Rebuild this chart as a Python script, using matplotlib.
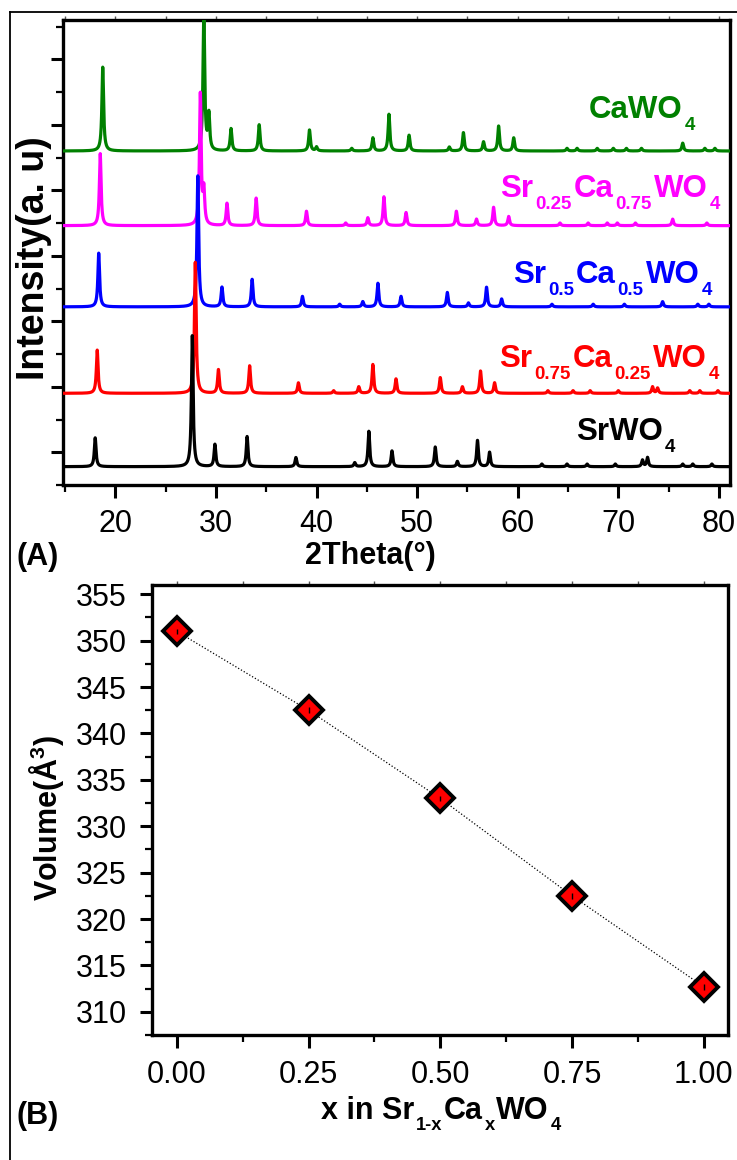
import numpy as np
import matplotlib
matplotlib.use('Agg')
import matplotlib.pyplot as plt
from matplotlib.lines import Line2D
from matplotlib.ticker import MultipleLocator, FixedLocator, FormatStrFormatter

plt.rcParams['font.family'] = ['Liberation Sans', 'DejaVu Sans']
plt.rcParams['mathtext.fontset'] = 'custom'
plt.rcParams['mathtext.rm'] = 'Liberation Sans:bold'
plt.rcParams['mathtext.it'] = 'Liberation Sans:bold'
plt.rcParams['mathtext.bf'] = 'Liberation Sans:bold'
plt.rcParams['mathtext.default'] = 'rm'

# ---------------- data: XRD peak lists (2theta, relative intensity %) ----------------
srwo4_pos = [18.0, 27.65, 29.9, 33.1, 37.95, 43.8, 45.2, 47.5, 51.8, 54.0, 56.0, 57.2,
             62.4, 64.9, 66.9, 69.7, 72.4, 72.9, 76.4, 77.4, 79.3]
srwo4_int = [22, 100, 17, 23, 7, 3, 27, 12, 15, 4, 20, 11, 2, 2, 2, 2, 5, 7, 2, 2, 2]

sr75_pos = [18.2, 27.95, 30.25, 33.35, 38.2, 41.7, 44.2, 45.6, 47.9, 52.3, 54.5, 56.3, 57.7,
            63.0, 65.5, 67.2, 70.0, 73.4, 73.9, 77.1, 78.1, 79.9]
sr75_int = [33, 100, 18, 21, 8, 2, 5, 22, 11, 12, 5, 17, 8, 2, 2, 2, 2, 5, 4, 2, 2, 2]

sr50_pos = [18.35, 28.2, 30.6, 33.6, 38.6, 42.3, 44.6, 46.1, 48.4, 53.0, 55.1, 56.9, 58.4,
            63.4, 67.5, 70.6, 74.4, 77.9, 79.0]
sr50_int = [41, 100, 15, 21, 8, 2, 4, 18, 8, 11, 3, 15, 6, 2, 2, 2, 4, 2, 2]

sr25_pos = [18.5, 28.45, 28.8, 31.1, 34.0, 39.0, 42.9, 45.1, 46.7, 48.9, 53.9, 55.9, 57.6, 59.1,
            64.2, 67.0, 68.9, 69.9, 71.7, 75.4, 78.8]
sr25_int = [55, 100, 25, 17, 21, 11, 2, 6, 22, 10, 11, 5, 14, 7, 2, 2, 2, 2, 2, 5, 2]

cawo4_pos = [18.75, 28.8, 29.3, 31.5, 34.3, 39.3, 40.0, 43.5, 45.6, 47.2, 49.2, 53.2, 54.6, 56.6,
             58.1, 59.6, 64.9, 65.9, 67.9, 69.5, 70.8, 72.3, 76.4, 78.6, 79.6]
cawo4_int = [64, 105, 27, 17, 20, 16, 3, 2, 10, 28, 12, 3, 14, 7, 19, 10, 2, 2, 2, 2, 2, 2, 6, 2, 2]

# sample labels as (text, is_subscript) pieces
sample_labels = [
    [('SrWO', False), ('4', True)],
    [('Sr', False), ('0.75', True), ('Ca', False), ('0.25', True), ('WO', False), ('4', True)],
    [('Sr', False), ('0.5', True), ('Ca', False), ('0.5', True), ('WO', False), ('4', True)],
    [('Sr', False), ('0.25', True), ('Ca', False), ('0.75', True), ('WO', False), ('4', True)],
    [('CaWO', False), ('4', True)],
]
sample_offsets = [14, 70, 136, 198, 255]
sample_colors = ['black', '#ff0000', '#0000ff', '#ff00ff', '#008000']

# ---------------- data: cell volume ----------------
x_comp = [0.0, 0.25, 0.50, 0.75, 1.00]
volume = [351.0, 342.5, 333.0, 322.5, 312.7]
volume_err = [0.3, 0.3, 0.3, 0.3, 0.3]
xlabel_B = [('x in Sr', False), ('1-x', True), ('Ca', False), ('x', True), ('WO', False), ('4', True)]

W, H = 737, 1160
fig = plt.figure(figsize=(W / 100, H / 100), dpi=100)
renderer = fig.canvas.get_renderer()


def fx(px):
    return px / W


def fy(py):
    return 1 - py / H


def rich(x, y, parts, ha='right', size=21, color='black', sub_scale=0.6, sub_drop=12, gap=1.5):
    items = []
    total = 0.0
    for txt, sub in parts:
        fs = size * sub_scale if sub else size
        t = fig.text(0, 0, txt, fontsize=fs, fontweight='bold', color=color,
                     va='baseline', ha='left')
        wpx = t.get_window_extent(renderer=renderer).width
        items.append((t, wpx, sub))
        total += wpx + gap
    total -= gap
    if ha == 'right':
        cur = x - total
    elif ha == 'center':
        cur = x - total / 2
    else:
        cur = x
    for t, wpx, sub in items:
        t.set_position((fx(cur), fy(y + (sub_drop if sub else 0))))
        cur += wpx + gap


# outer frame (left and top)
fig.add_artist(Line2D([fx(10), fx(10)], [fy(12), 0], transform=fig.transFigure, color='black', lw=1.3))
fig.add_artist(Line2D([fx(10), 1], [fy(12), fy(12)], transform=fig.transFigure, color='black', lw=1.3))

# ---------------- panel A ----------------
axA = fig.add_axes([fx(63), fy(485), fx(730) - fx(63), fy(20) - fy(485)])
tt = np.arange(14.5, 81.5, 0.01)
w = 0.1
patterns = [(srwo4_pos, srwo4_int), (sr75_pos, sr75_int), (sr50_pos, sr50_int),
            (sr25_pos, sr25_int), (cawo4_pos, cawo4_int)]
for i in [4, 3, 2, 1, 0]:
    pos, inten = patterns[i]
    y = np.zeros_like(tt)
    for p, h in zip(pos, inten):
        y += h / (1 + ((tt - p) / w) ** 2)
    axA.plot(tt, y + sample_offsets[i], color=sample_colors[i], lw=2.3, zorder=7 - i)

axA.set_xlim(14.8, 81.1)
axA.set_ylim(0, 355)
axA.xaxis.set_major_locator(MultipleLocator(10))
axA.xaxis.set_minor_locator(MultipleLocator(5))
axA.yaxis.set_major_locator(FixedLocator(np.arange(25, 355, 50)))
axA.yaxis.set_minor_locator(FixedLocator(np.arange(0, 355, 50)))
axA.tick_params(axis='both', which='major', direction='out', length=9, width=2.2, labelsize=22, pad=8)
axA.tick_params(axis='both', which='minor', direction='out', length=5, width=1.6)
axA.tick_params(axis='y', labelleft=False)
for s in axA.spines.values():
    s.set_linewidth(2.4)
secA = axA.secondary_xaxis('top')
secA.xaxis.set_major_locator(MultipleLocator(5))
secA.tick_params(direction='out', length=3, width=1.0, labeltop=False, colors='#555555')
secA.spines['top'].set_visible(False)

label_pos = [(675, 440), (719, 367), (712, 283), (720, 197), (695, 118)]
for i in range(5):
    rich(label_pos[i][0], label_pos[i][1], sample_labels[i], ha='right', size=22.5,
         color=sample_colors[i], sub_drop=12, gap=2)

fig.text(fx(34), fy(258), 'Intensity(a. u)', rotation=90, fontsize=27, fontweight='bold',
         ha='center', va='center')
fig.text(fx(370), fy(556), '2Theta(°)', fontsize=22, fontweight='bold', ha='center', va='center')
fig.text(fx(17), fy(557), '(A)', fontsize=22, fontweight='bold', ha='left', va='center')

# ---------------- panel B ----------------
axB = fig.add_axes([fx(152), fy(1035), fx(728) - fx(152), fy(585) - fy(1035)])
axB.plot(x_comp, volume, color='black', lw=0.9, ls=(0, (1, 1.6)), zorder=2)
axB.plot(x_comp, volume, ls='none', marker='D', ms=14, mfc='#ff0000', mec='black', mew=2.8, zorder=3)
axB.errorbar(x_comp, volume, yerr=volume_err, fmt='none', ecolor='black', elinewidth=1.0, capsize=0, zorder=4)
axB.set_xlim(-0.047, 1.046)
axB.set_ylim(307.5, 356)
axB.xaxis.set_major_locator(MultipleLocator(0.25))
axB.xaxis.set_minor_locator(MultipleLocator(0.125))
axB.xaxis.set_major_formatter(FormatStrFormatter('%.2f'))
axB.yaxis.set_major_locator(MultipleLocator(5))
axB.yaxis.set_minor_locator(MultipleLocator(2.5))
axB.tick_params(axis='both', which='major', direction='out', length=9, width=2.2, labelsize=22, pad=9)
axB.tick_params(axis='both', which='minor', direction='out', length=5, width=1.6)
for s in axB.spines.values():
    s.set_linewidth(2.4)
secB = axB.secondary_xaxis('top')
secB.xaxis.set_major_locator(MultipleLocator(0.125))
secB.tick_params(direction='out', length=3, width=1.0, labeltop=False, colors='#555555')
secB.spines['top'].set_visible(False)

fig.text(fx(47), fy(818), 'Volume(Å$^3$)', rotation=90, fontsize=22, fontweight='bold',
         ha='center', va='center')
rich(441, 1119, xlabel_B, ha='center', size=22, color='black', sub_drop=11)
fig.text(fx(17), fy(1116), '(B)', fontsize=22, fontweight='bold', ha='left', va='center')

fig.savefig('out.png', dpi=100)
